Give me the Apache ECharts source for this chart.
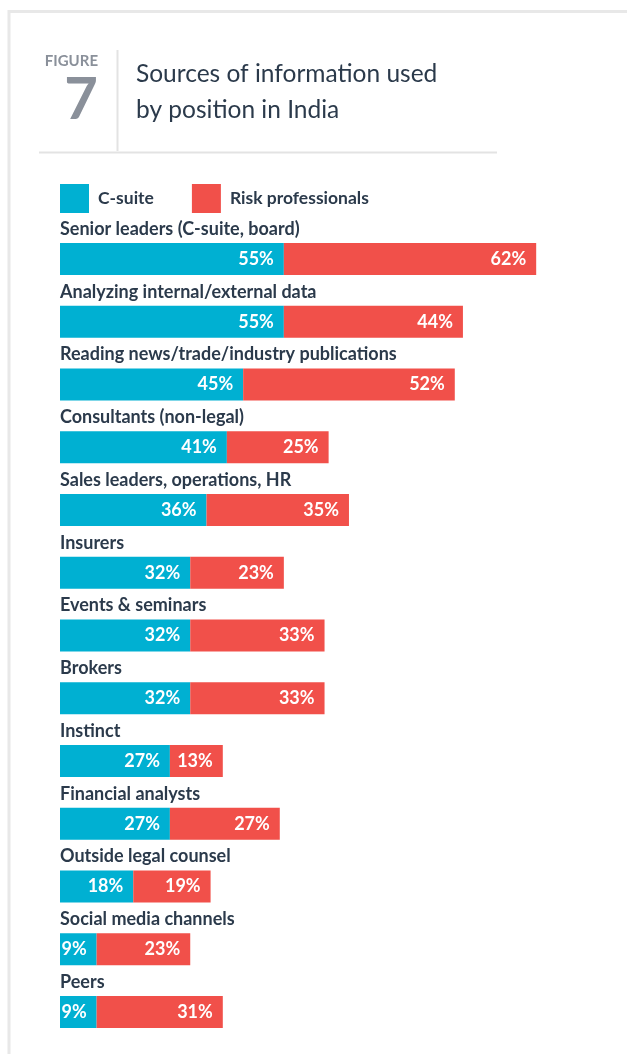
<!DOCTYPE html>
<html>
<head>
<meta charset="utf-8">
<script src="https://cdn.jsdelivr.net/npm/echarts@6/dist/echarts.min.js"></script>
<style>
  html, body { margin: 0; padding: 0; background: #ffffff; }
  #chart { width: 627px; height: 1054px; }
</style>
</head>
<body>
<div id="chart"></div>
<script>
// Sources of information, share of respondents (%) by position
const categories = [
  'Senior leaders (C-suite, board)',
  'Analyzing internal/external data',
  'Reading news/trade/industry publications',
  'Consultants (non-legal)',
  'Sales leaders, operations, HR',
  'Insurers',
  'Events & seminars',
  'Brokers',
  'Instinct',
  'Financial analysts',
  'Outside legal counsel',
  'Social media channels',
  'Peers'
];
const cSuite = [55, 55, 45, 41, 36, 32, 32, 32, 27, 27, 18, 9, 9];
const riskProfessionals = [62, 44, 52, 25, 35, 23, 33, 33, 13, 27, 19, 23, 31];
const seriesNames = ['C-suite', 'Risk professionals'];

const FONT = 'Lato, "Noto Sans", sans-serif';
const DARK = '#2b3a4b';
const GREY = '#8a909a';
const CYAN = '#00b0d2';
const RED = '#f1504a';

const chart = echarts.init(document.getElementById('chart'));

const valueLabel = {
  show: true,
  position: 'insideRight',
  distance: 10,
  formatter: '{c}%',
  color: '#ffffff',
  fontFamily: FONT,
  fontWeight: 'bold',
  fontSize: 18
};

chart.setOption({
  backgroundColor: '#ffffff',
  animation: false,
  title: [
    {
      text: 'FIGURE',
      right: 529,
      top: 54,
      padding: 0,
      textStyle: { fontFamily: FONT, fontWeight: 'bold', fontSize: 15, color: GREY }
    },
    {
      text: '7',
      right: 529,
      top: 71,
      padding: 0,
      textStyle: { fontFamily: FONT, fontWeight: 'bold', fontSize: 58, color: GREY }
    },
    {
      text: 'Sources of information used\nby position in India',
      left: 136,
      top: 56,
      padding: 0,
      textStyle: { fontFamily: FONT, fontWeight: 'normal', fontSize: 24.5, lineHeight: 36, color: DARK }
    }
  ],
  graphic: [
    { type: 'rect', silent: true, shape: { x: 9, y: 11.5, width: 700, height: 1100 },
      style: { fill: 'none', stroke: '#e8e8e8', lineWidth: 3 } },
    { type: 'line', silent: true, shape: { x1: 117.5, y1: 50, x2: 117.5, y2: 151 },
      style: { stroke: '#e3e3e3', lineWidth: 2 } },
    { type: 'line', silent: true, shape: { x1: 39, y1: 152.5, x2: 497, y2: 152.5 },
      style: { stroke: '#e3e3e3', lineWidth: 2 } }
  ],
  legend: {
    left: 60,
    top: 184,
    padding: 0,
    icon: 'rect',
    itemWidth: 29,
    itemHeight: 29,
    itemGap: 38,
    selectedMode: false,
    data: seriesNames,
    textStyle: { fontFamily: FONT, fontWeight: 'bold', fontSize: 17.5, color: DARK, padding: [0, 0, 0, 4] }
  },
  grid: { left: 60, right: 78.6, top: 227.6, bottom: 10.6 },
  xAxis: {
    type: 'value',
    min: 0,
    max: 120,
    show: false
  },
  yAxis: {
    type: 'category',
    inverse: true,
    data: categories,
    axisLine: { show: false },
    axisTick: { show: false },
    splitLine: { show: false },
    axisLabel: { show: false }
  },
  series: [
    {
      name: seriesNames[0],
      type: 'bar',
      stack: 'total',
      barWidth: 32,
      barGap: '-100%',
      itemStyle: { color: CYAN },
      label: valueLabel,
      data: cSuite
    },
    {
      name: seriesNames[1],
      type: 'bar',
      stack: 'total',
      barWidth: 32,
      barGap: '-100%',
      itemStyle: { color: RED },
      label: valueLabel,
      data: riskProfessionals
    },
    {
      // zero-length bars that only carry the category name above each row
      name: 'category',
      type: 'bar',
      barWidth: 32,
      barGap: '-100%',
      silent: true,
      itemStyle: { color: 'rgba(0,0,0,0)' },
      label: {
        show: true,
        position: [0, -14],
        align: 'left',
        verticalAlign: 'middle',
        formatter: (p) => p.name,
        fontFamily: FONT,
        fontWeight: 'bold',
        fontSize: 18,
        color: DARK
      },
      data: categories.map(() => 0)
    }
  ]
});
</script>
</body>
</html>
